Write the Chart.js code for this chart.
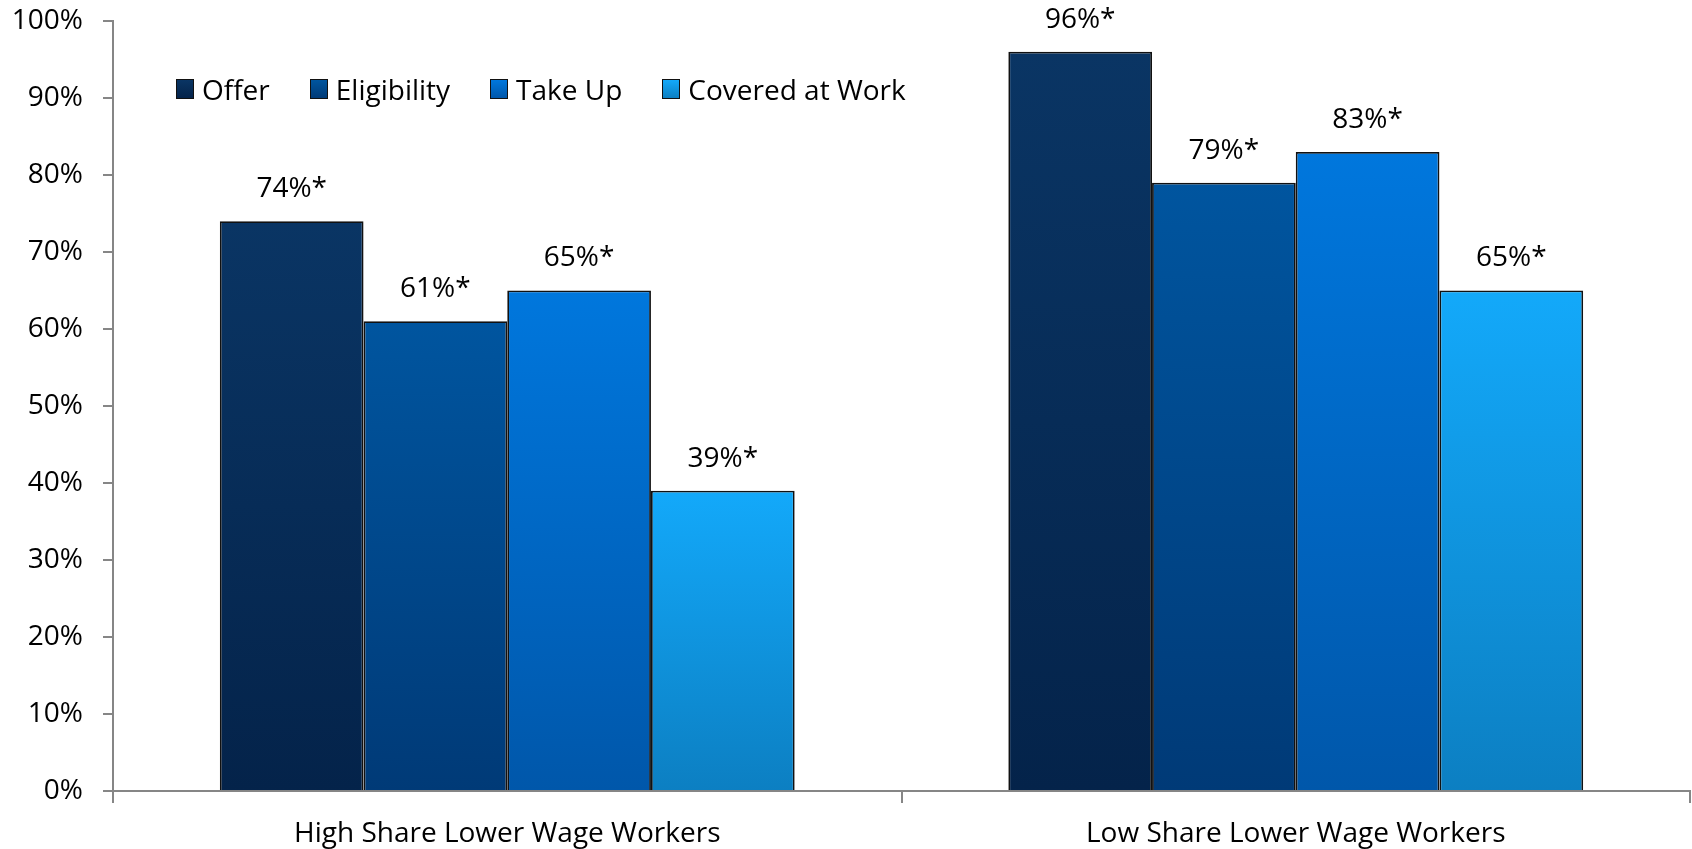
<!DOCTYPE html>
<html>
<head>
<meta charset="utf-8">
<script src="https://cdn.jsdelivr.net/npm/chart.js@4/dist/chart.umd.min.js"></script>
<style>
  html, body { margin: 0; padding: 0; background: #fff; }
  #wrap { position: relative; width: 1692px; height: 849px; }
  #legend {
    position: absolute; left: 176px; top: 70px;
    display: flex; align-items: center; gap: 40px;
    font-family: "Open Sans", sans-serif; font-size: 28px; color: #000;
  }
  #legend .item { display: flex; align-items: center; }
  #legend .box {
    width: 18px; height: 20px; margin-right: 8px;
    border: 1.5px solid #111; box-sizing: border-box;
  }
</style>
</head>
<body>
<div id="wrap">
  <canvas id="chart" width="1692" height="849"></canvas>
  <div id="legend"></div>
</div>
<script>
// categories and series values (percent)
const categories = ["High Share Lower Wage Workers", "Low Share Lower Wage Workers"];
const seriesNames = ["Offer", "Eligibility", "Take Up", "Covered at Work"];
const offer = [74, 96];
const eligibility = [61, 79];
const takeUp = [65, 83];
const coveredAtWork = [39, 65];
const labelSuffix = "%*";

// bar fills: top and bottom of each vertical gradient
const fillTop = ["#0a3564", "#00559f", "#0077dd", "#13a9fa"];
const fillBottom = ["#04234a", "#003a77", "#0057aa", "#0c7fc2"];

const FONT = "'Open Sans', sans-serif";
const AXIS = "#868686";

function barGradient(i) {
  return (ctx) => {
    const chart = ctx.chart;
    const y = chart.scales.y;
    if (!chart.chartArea || !y || ctx.type !== "data") return fillTop[i];
    const top = y.getPixelForValue(ctx.parsed.y);
    const bottom = y.getPixelForValue(0);
    const g = chart.ctx.createLinearGradient(0, top, 0, bottom);
    g.addColorStop(0, fillTop[i]);
    g.addColorStop(1, fillBottom[i]);
    return g;
  };
}

// value labels above the bars
const valueLabels = {
  id: "valueLabels",
  afterDatasetsDraw(chart) {
    const c = chart.ctx;
    c.save();
    c.font = `28px ${FONT}`;
    c.fillStyle = "#000";
    c.textAlign = "center";
    c.textBaseline = "middle";
    chart.data.datasets.forEach((ds, i) => {
      chart.getDatasetMeta(i).data.forEach((bar, j) => {
        c.fillText(ds.data[j] + labelSuffix, bar.x, bar.y - 32);
      });
    });
    c.restore();
  }
};

const seriesData = [offer, eligibility, takeUp, coveredAtWork];

const chart = new Chart(document.getElementById("chart"), {
  type: "bar",
  data: {
    labels: categories,
    datasets: seriesNames.map((name, i) => ({
      label: name,
      data: seriesData[i],
      backgroundColor: barGradient(i),
      borderColor: "#111",
      borderWidth: 1.8,
      borderSkipped: "bottom",
      categoryPercentage: 0.729,
      barPercentage: 1.0,
    })),
  },
  options: {
    responsive: false,
    devicePixelRatio: 1,
    animation: false,
    layout: { padding: { top: 21, right: 2, left: 0, bottom: 0 } },
    plugins: {
      legend: { display: false },
      tooltip: { enabled: false },
    },
    scales: {
      x: {
        offset: true,
        grid: {
          offset: true, drawOnChartArea: false, drawTicks: true,
          tickLength: 12, color: AXIS, lineWidth: 2,
        },
        border: { color: AXIS, width: 2 },
        ticks: { color: "#000", font: { family: FONT, size: 28 }, padding: 14 },
        afterFit: (s) => { s.height = 58; s.paddingLeft = 0; s.paddingRight = 0; },
      },
      y: {
        min: 0,
        max: 100,
        ticks: {
          stepSize: 10, color: "#000", padding: 20,
          font: { family: FONT, size: 28 },
          callback: (v) => v + "%",
        },
        grid: {
          drawOnChartArea: false, drawTicks: true,
          tickLength: 10, color: AXIS, lineWidth: 2,
        },
        border: { color: AXIS, width: 2 },
        afterFit: (s) => { s.width = 113; s.paddingTop = 0; s.paddingBottom = 0; },
      },
    },
  },
  plugins: [valueLabels],
});

// legend row inside the plot
const legend = document.getElementById("legend");
seriesNames.forEach((name, i) => {
  const item = document.createElement("div");
  item.className = "item";
  const box = document.createElement("span");
  box.className = "box";
  box.style.background = `linear-gradient(${fillTop[i]}, ${fillBottom[i]})`;
  const text = document.createElement("span");
  text.textContent = name;
  item.appendChild(box);
  item.appendChild(text);
  legend.appendChild(item);
});
</script>
</body>
</html>
